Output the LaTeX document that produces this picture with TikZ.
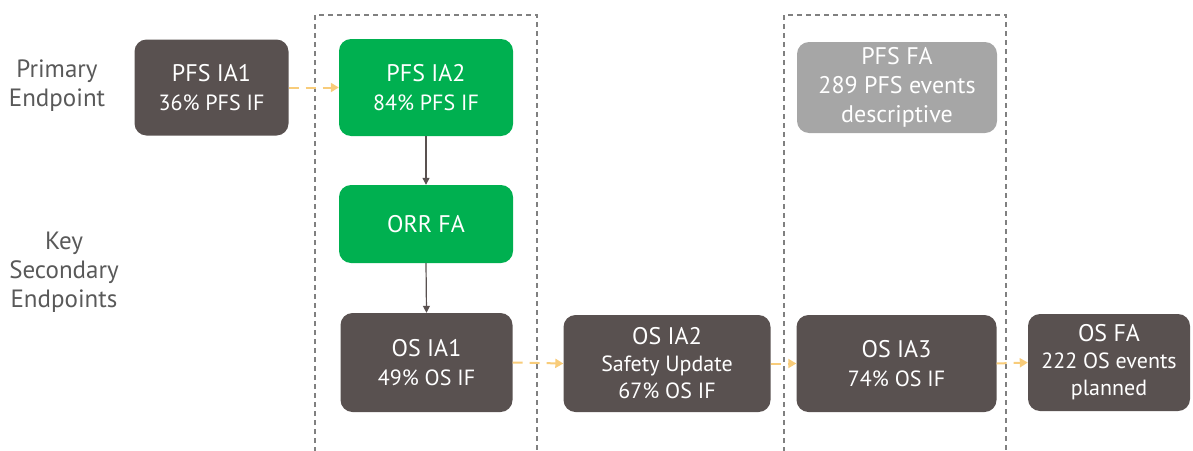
\documentclass[tikz,border=0pt]{standalone}
\usepackage{fontspec}
\setmainfont{PT Sans}
\usetikzlibrary{arrows.meta}
\definecolor{darkbox}{RGB}{89,81,80}
\definecolor{greenbox}{RGB}{0,176,80}
\definecolor{graybox}{RGB}{166,166,166}
\definecolor{labelgray}{RGB}{89,89,89}
\definecolor{dashorange}{RGB}{248,204,122}
\definecolor{framegray}{RGB}{128,128,128}
\tikzset{
  box/.style={rounded corners=12pt, text=white, align=center, inner sep=0pt,
    font=\fontsize{24}{29}\selectfont},
  dbox/.style={box, fill=darkbox},
  gbox/.style={box, fill=greenbox},
  pbox/.style={box, fill=graybox},
  sidelabel/.style={text=labelgray, align=center, font=\fontsize{25}{29}\selectfont},
  solidarrow/.style={draw=darkbox, line width=1.2pt, -{Triangle[length=7pt,width=7pt]}},
  dasharrow/.style={draw=dashorange, line width=2pt, dash pattern=on 10pt off 7pt,
    -{Triangle[length=8pt,width=9pt]}},
  frame/.style={draw=framegray, line width=1.3pt, dash pattern=on 5pt off 4pt}
}
\newcommand{\sm}{\fontsize{22}{27}\selectfont}
\begin{document}
\begin{tikzpicture}[x=1pt,y=-1pt]
\useasboundingbox (0,0) rectangle (1193,450);
% frames
\draw[frame] (315,452) -- (315,15) -- (537,15) -- (537,452);
\draw[frame] (784,452) -- (784,15) -- (1006,15) -- (1006,452);
% side labels
\node[sidelabel] (lp) at (57,86) {Primary\\Endpoint};
\node[sidelabel] (lk) at (64,272) {Key\\Secondary\\Endpoints};
% boxes
\node[dbox, minimum width=154pt, minimum height=96pt] (ia1) at (211.5,87.5) {PFS IA1\\{\sm 36\% PFS IF}};
\node[gbox, minimum width=174pt, minimum height=97pt] (ia2) at (426,87.5) {PFS IA2\\{\sm 84\% PFS IF}};
\node[gbox, minimum width=174pt, minimum height=78pt] (orr) at (426,224) {ORR FA};
\node[dbox, minimum width=172pt, minimum height=99pt] (os1) at (426.5,362.5) {OS IA1\\{\sm 49\% OS IF}};
\node[dbox, minimum width=207pt, minimum height=97pt, font=\fontsize{24}{27}\selectfont] (os2) at (667,363.5) {OS IA2\\{\sm Safety Update}\\{\sm 67\% OS IF}};
\node[dbox, minimum width=200pt, minimum height=97pt] (os3) at (896.5,363.5) {OS IA3\\{\sm 74\% OS IF}};
\node[dbox, minimum width=162pt, minimum height=97pt, font=\fontsize{24}{27}\selectfont] (osfa) at (1109,362.5) {OS FA\\{\sm 222 OS events}\\{\sm planned}};
\node[pbox, minimum width=200pt, minimum height=91pt, font=\fontsize{24}{29}\selectfont] (pfsfa) at (897,87.5) {PFS FA\\289 PFS events\\descriptive};
% arrows
\draw[dasharrow] (ia1.east) -- (ia2.west);
\draw[solidarrow] (ia2.south) -- (orr.north);
\draw[solidarrow] (orr.south) -- (os1.north);
\draw[dasharrow] (os1.east) -- (os2.west);
\draw[dasharrow] (os2.east) -- (os3.west);
\draw[dasharrow] (os3.east) -- (osfa.west);
\end{tikzpicture}
\end{document}
